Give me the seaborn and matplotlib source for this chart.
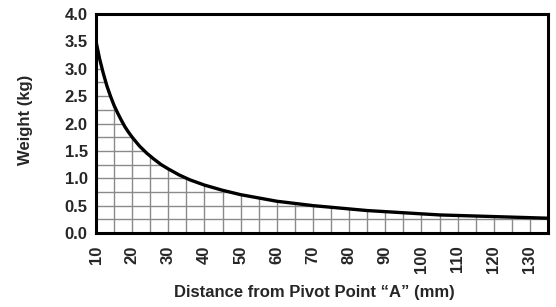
import numpy as np
import pandas as pd
import matplotlib
matplotlib.use("Agg")
import matplotlib.pyplot as plt
import seaborn as sns

# Values
distance_mm = [10, 11, 12, 13, 14, 15, 16, 17, 18, 19, 20, 22, 24, 26, 28, 30, 33, 36, 40, 45,
               50, 55, 60, 65, 70, 75, 80, 85, 90, 95, 100, 105, 110, 115, 120, 125, 130, 135]
weight_kg = [3.50, 3.18, 2.92, 2.69, 2.50, 2.33, 2.19, 2.06, 1.94, 1.84, 1.75, 1.59, 1.46, 1.35,
             1.25, 1.17, 1.06, 0.97, 0.875, 0.78, 0.70, 0.64, 0.58, 0.54, 0.50, 0.47, 0.44,
             0.41, 0.39, 0.37, 0.35, 0.33, 0.32, 0.31, 0.30, 0.29, 0.28, 0.27]
x_ticks = [10, 20, 30, 40, 50, 60, 70, 80, 90, 100, 110, 120, 130]
y_ticks = [0.0, 0.5, 1.0, 1.5, 2.0, 2.5, 3.0, 3.5, 4.0]
x_grid = list(range(10, 136, 5))
y_grid = [i * 0.25 for i in range(1, 16)]

df = pd.DataFrame({"Distance": distance_mm, "Weight": weight_kg})

sns.set_style("white")
plt.rcParams["font.family"] = ["Liberation Sans", "DejaVu Sans"]
plt.rcParams["font.weight"] = "bold"

fig = plt.figure(figsize=(5.56, 3.07), dpi=100)
ax = fig.add_axes([96 / 556, (307 - 233) / 307, 452 / 556, 219 / 307])

ax.set_xlim(10, 135)
ax.set_ylim(0, 4.0)

# area under curve used as clip path for the grid
poly = ax.fill_between(df["Distance"], 0, df["Weight"], color="white", lw=0, zorder=1)
vl = ax.vlines(x_grid, 0, 4.0, colors="#8a8a8a", lw=1.0, zorder=2)
hl = ax.hlines(y_grid, 10, 135, colors="#8a8a8a", lw=1.0, zorder=2)
path = poly.get_paths()[0]
vl.set_clip_path(path, ax.transData)
hl.set_clip_path(path, ax.transData)

sns.lineplot(data=df, x="Distance", y="Weight", ax=ax, color="black", lw=2.4, zorder=5)

ax.set_xticks(x_ticks)
ax.set_yticks(y_ticks)
ax.set_xticklabels([str(t) for t in x_ticks], rotation=90, fontsize=12, fontweight="bold")
ax.set_yticklabels([f"{t:.1f}" for t in y_ticks], fontsize=12, fontweight="bold")
ax.tick_params(axis="both", direction="out", length=5, width=1.2, color="#555555")
ax.tick_params(axis="x", pad=4)
ax.tick_params(axis="y", pad=1)

for s in ax.spines.values():
    s.set_color("black")
    s.set_linewidth(2.2)
    s.set_zorder(6)

ax.set_xlabel("Distance from Pivot Point \u201cA\u201d (mm)", fontsize=12, fontweight="bold")
ax.set_ylabel("Weight (kg)", fontsize=12, fontweight="bold")
ax.xaxis.set_label_coords(0.483, -0.238)
ax.yaxis.set_label_coords(-0.139, 0.516)

fig.savefig("out.png", dpi=100)
